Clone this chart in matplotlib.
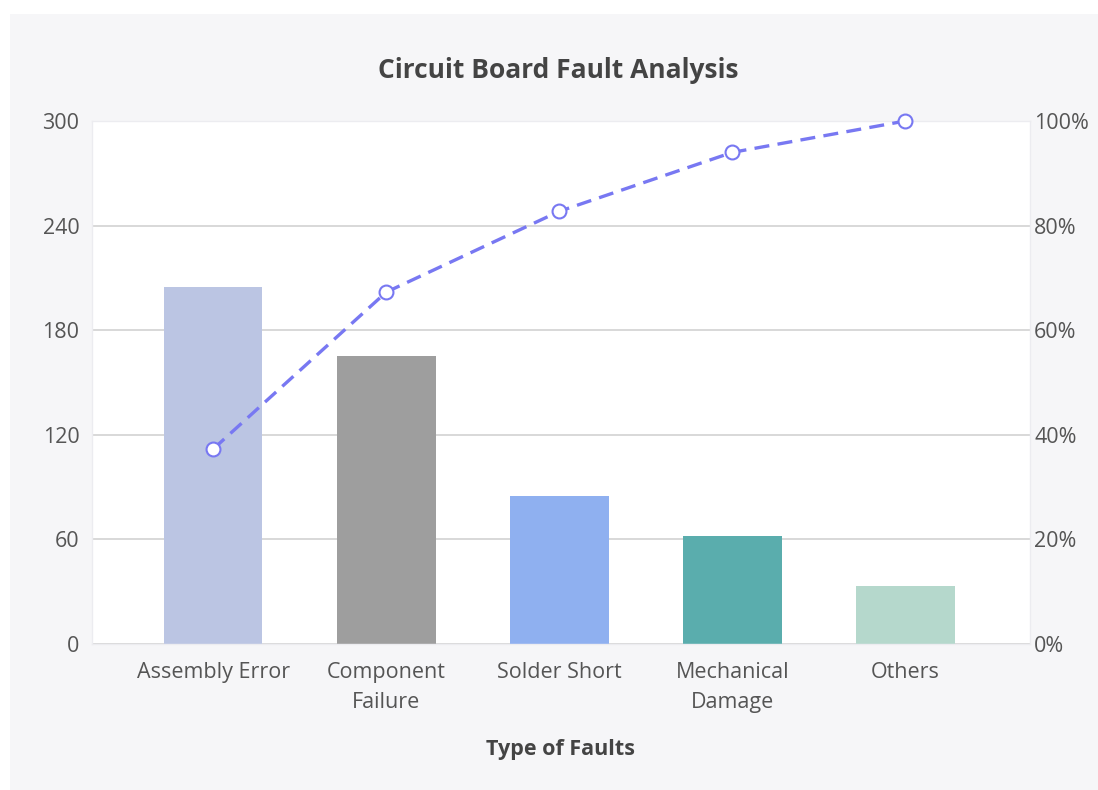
import matplotlib.pyplot as plt
import numpy as np
from matplotlib.patches import Rectangle

# fault counts per category
faults = ["Assembly Error", "Component\nFailure", "Solder Short", "Mechanical\nDamage", "Others"]
counts = [205, 165, 85, 62, 33]
bar_colors = ["#bbc5e3", "#9e9e9e", "#8fb0f0", "#5aadad", "#b5d8cc"]

cum_pct = np.cumsum(counts) / sum(counts) * 100

plt.rcParams['font.family'] = ['Open Sans', 'DejaVu Sans']

fig = plt.figure(figsize=(10.98, 7.9), dpi=100)
fig.patch.set_facecolor("white")
# light panel behind the chart
fig.patches.append(Rectangle((10 / 1098, 0), 1, 1 - 14 / 790, transform=fig.transFigure,
                             facecolor="#f6f6f8", edgecolor="none", zorder=-10))

ax = fig.add_axes([92 / 1098, 1 - 644 / 790, (1030 - 92) / 1098, (644 - 121) / 790])
ax.set_facecolor("white")
x = np.arange(len(faults))
ax.bar(x, counts, width=0.57, color=bar_colors, zorder=2)
ax.set_xlim(-0.7, 4.72)
ax.set_ylim(0, 300)
ax.set_yticks(np.arange(0, 301, 60))
ax.grid(axis="y", color="#d2d2d2", linewidth=1.2, zorder=0)
ax.set_xticks(x)
ax.set_xticklabels(faults, fontsize=15.5, color="#555555", linespacing=1.55)
ax.tick_params(axis="both", length=0, labelsize=15.5, labelcolor="#555555")
ax.tick_params(axis="x", pad=13)
ax.tick_params(axis="y", pad=9)
for s in ax.spines.values():
    s.set_color("#ececf0")
    s.set_linewidth(1)
ax.set_xlabel("Type of Faults", fontsize=15.5, fontweight="bold", color="#444444", labelpad=19)

ax2 = ax.twinx()
ax2.set_ylim(0, 100)
ax2.set_yticks(np.arange(0, 101, 20))
ax2.set_yticklabels([f"{v}%" for v in range(0, 101, 20)])
ax2.tick_params(axis="y", length=0, labelsize=15.5, labelcolor="#555555", pad=3)
for s in ax2.spines.values():
    s.set_visible(False)
ax2.plot(x, cum_pct, color="#7878f2", linewidth=2.4, linestyle=(0, (4.5, 2.5)),
         marker="o", markersize=10, markerfacecolor="white", markeredgecolor="#7878f2",
         markeredgewidth=1.5, zorder=5, clip_on=False)

fig.text(558 / 1098, 1 - 71 / 790, "Circuit Board Fault Analysis", ha="center", va="center",
         fontsize=19, fontweight="bold", color="#444444")

fig.savefig("out.png", dpi=100)
